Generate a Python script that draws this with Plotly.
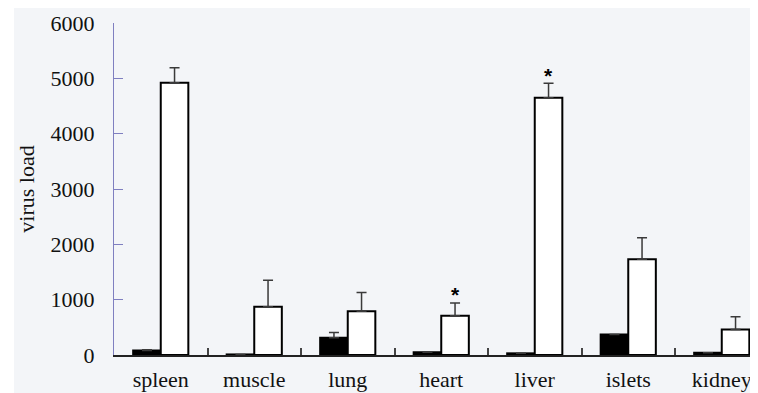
import plotly.graph_objects as go

categories = ["spleen", "muscle", "lung", "heart", "liver", "islets", "kidney"]
control_vals = [80, 10, 310, 50, 30, 370, 40]
control_err = [15, 0, 95, 0, 0, 0, 0]
infected_vals = [4920, 870, 790, 710, 4650, 1730, 460]
infected_err = [270, 480, 340, 230, 260, 390, 230]
significant = [False, False, False, True, True, False, False]
y_ticks = [0, 1000, 2000, 3000, 4000, 5000, 6000]

# the page body has an 8px default margin, so the figure is drawn offset by 8px
OFF = 8
W, H = 758 - OFF, 393 - OFF
L, R, T, B = 114 - OFF, 0, 23 - OFF, 38
pw, ph = W - L - R, H - T - B
cat_px = 93.5
x_max = -0.5 + pw / cat_px

serif = "Liberation Serif, Times New Roman, serif"

fig = go.Figure()
fig.add_trace(go.Bar(
    x=categories, y=control_vals, name="control",
    marker=dict(color="black", line=dict(color="black", width=2)),
    error_y=dict(type="data", symmetric=False, array=control_err,
                 arrayminus=[0] * len(control_err),
                 color="#3a3a3a", thickness=1.5, width=5),
))
fig.add_trace(go.Bar(
    x=categories, y=infected_vals, name="infected",
    marker=dict(color="white", line=dict(color="black", width=2)),
    error_y=dict(type="data", symmetric=False, array=infected_err,
                 arrayminus=[0] * len(infected_err),
                 color="#3a3a3a", thickness=1.5, width=5),
))

bar_w_frac = 0.295
for i, sig in enumerate(significant):
    if sig:
        fig.add_annotation(
            x=i, y=infected_vals[i] + infected_err[i], xref="x", yref="y",
            text="<b>*</b>", showarrow=False, yshift=8,
            xshift=bar_w_frac * cat_px / 2,
            font=dict(family="Liberation Sans, Arial", size=21, color="black"),
        )

# light panel with white strips at the top and left
top_strip = 12 - OFF
left_strip = 14 - OFF
fig.add_shape(type="rect", xref="paper", yref="paper",
              x0=(left_strip - L) / pw, x1=1.02, y0=-B / ph - 0.02, y1=(H - T - top_strip) / ph,
              fillcolor="#f3f5f8", line=dict(width=0), layer="below")

fig.update_layout(
    width=W, height=H,
    margin=dict(l=L, r=R, t=T, b=B, autoexpand=False),
    paper_bgcolor="white",
    plot_bgcolor="#f3f5f8",
    barmode="group",
    bargap=0.41,
    bargroupgap=0,
    showlegend=False,
    font=dict(family=serif, size=22, color="#111111"),
)
fig.update_xaxes(
    range=[-0.5, x_max],
    showline=True, linecolor="#222222", linewidth=1.5,
    ticks="inside", tickson="boundaries", ticklen=7, tickcolor="#444444", tickwidth=1.5,
    showgrid=False, zeroline=False,
    tickfont=dict(family=serif, size=22, color="#111111"),
    ticklabelstandoff=4,
)
fig.update_yaxes(
    range=[0, 6000],
    tickvals=y_ticks,
    showline=True, linecolor="#7f7fc0", linewidth=1,
    ticks="inside", ticklen=9, tickcolor="#7f7fc0", tickwidth=1,
    showgrid=False, zeroline=False,
    tickfont=dict(family=serif, size=22, color="#111111"),
    ticklabelstandoff=14,
    title=dict(text="virus load", font=dict(family=serif, size=22, color="#111111"), standoff=9),
)

fig.write_html("out.html")
